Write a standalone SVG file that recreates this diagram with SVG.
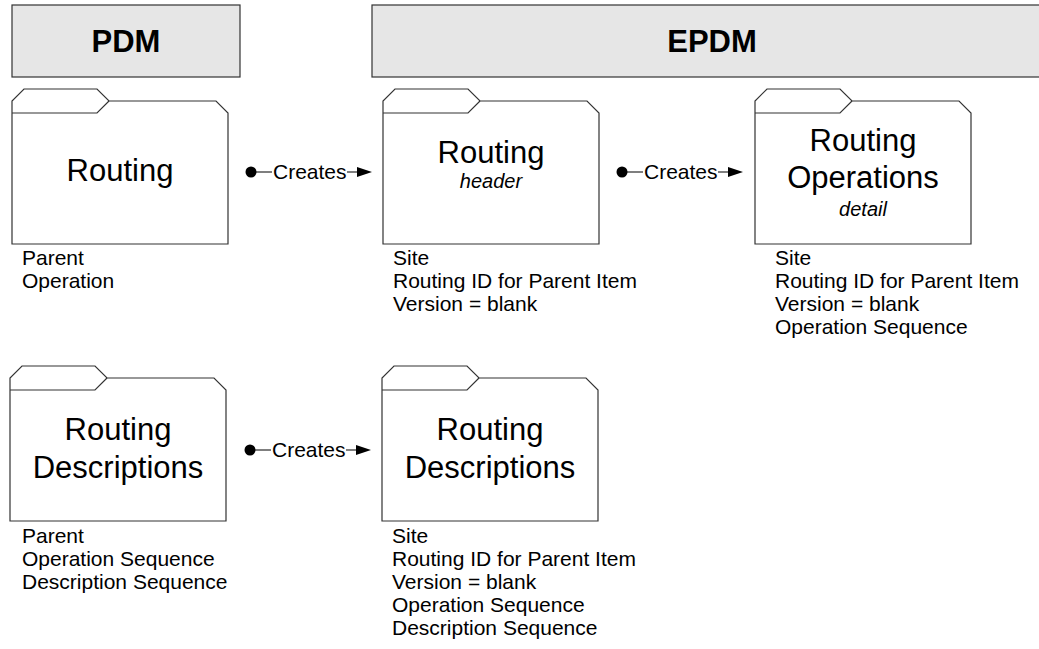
<svg xmlns="http://www.w3.org/2000/svg" width="1039" height="649" viewBox="0 0 1039 649">
<style>
.hdr{fill:#e6e6e6;stroke:#333;stroke-width:1.2}
.hdrt{font-family:"Liberation Sans",Arial,sans-serif;font-weight:bold;font-size:31px;fill:#000;text-anchor:middle}
.fold{fill:#fff;stroke:#333;stroke-width:1.2;stroke-linejoin:miter}
.title{font-family:"Liberation Sans",Arial,sans-serif;font-size:31px;fill:#000;text-anchor:middle}
.sub{font-family:"Liberation Sans",Arial,sans-serif;font-size:20px;font-style:italic;fill:#000;text-anchor:middle}
.prop{font-family:"Liberation Sans",Arial,sans-serif;font-size:21px;fill:#000}
.conn{stroke:#000;stroke-width:1.2;fill:none}
.lbl{font-family:"Liberation Sans",Arial,sans-serif;font-size:21px;fill:#000}
</style>
<defs>
<g id="folder">
<path class="fold" d="M0,155 V12 L12,0 H85 L97,12 H204 L216,24 V155 Z"/>
<path class="fold" d="M0,24 H85 L97,12" fill="none"/>
</g>
</defs>
<g id="pdm-header">
<rect class="hdr" x="12" y="5" width="228" height="72"/>
<text class="hdrt" x="126" y="52">PDM</text>
</g>
<g id="epdm-header">
<rect class="hdr" x="372" y="5" width="690" height="72"/>
<text class="hdrt" x="712" y="52">EPDM</text>
</g>
<g id="pdm-routing">
<use href="#folder" x="12" y="89"/>
<text class="title" x="120" y="181">Routing</text>
<text class="prop" x="22" y="265">Parent</text>
<text class="prop" x="22" y="288">Operation</text>
</g>
<g id="epdm-routing-header">
<use href="#folder" x="383" y="89"/>
<text class="title" x="491" y="163">Routing</text>
<text class="sub" x="491" y="188">header</text>
<text class="prop" x="393" y="265">Site</text>
<text class="prop" x="393" y="288">Routing ID for Parent Item</text>
<text class="prop" x="393" y="311">Version = blank</text>
</g>
<g id="epdm-routing-operations">
<use href="#folder" x="755" y="89"/>
<text class="title" x="863" y="151">Routing</text>
<text class="title" x="863" y="188">Operations</text>
<text class="sub" x="863" y="216">detail</text>
<text class="prop" x="775" y="265">Site</text>
<text class="prop" x="775" y="288">Routing ID for Parent Item</text>
<text class="prop" x="775" y="311">Version = blank</text>
<text class="prop" x="775" y="334">Operation Sequence</text>
</g>
<g id="pdm-routing-descriptions">
<use href="#folder" x="10" y="366"/>
<text class="title" x="118" y="440">Routing</text>
<text class="title" x="118" y="478">Descriptions</text>
<text class="prop" x="22" y="543">Parent</text>
<text class="prop" x="22" y="566">Operation Sequence</text>
<text class="prop" x="22" y="589">Description Sequence</text>
</g>
<g id="epdm-routing-descriptions">
<use href="#folder" x="382" y="366"/>
<text class="title" x="490" y="440">Routing</text>
<text class="title" x="490" y="478">Descriptions</text>
<text class="prop" x="392" y="543">Site</text>
<text class="prop" x="392" y="566">Routing ID for Parent Item</text>
<text class="prop" x="392" y="589">Version = blank</text>
<text class="prop" x="392" y="612">Operation Sequence</text>
<text class="prop" x="392" y="635">Description Sequence</text>
</g>
<g id="connectors">
<g id="c1">
<circle cx="251" cy="172" r="5.5" fill="#000"/>
<path class="conn" d="M251,172 H272 M347,172 H358"/>
<polygon points="357,167 372,172 357,177" fill="#000"/>
<text class="lbl" x="273" y="179">Creates</text>
</g>
<g id="c2">
<circle cx="622" cy="172" r="5.5" fill="#000"/>
<path class="conn" d="M622,172 H643 M718,172 H729"/>
<polygon points="728,167 743,172 728,177" fill="#000"/>
<text class="lbl" x="644" y="179">Creates</text>
</g>
<g id="c3">
<circle cx="250" cy="450" r="5.5" fill="#000"/>
<path class="conn" d="M250,450 H271 M346,450 H357"/>
<polygon points="356,445 371,450 356,455" fill="#000"/>
<text class="lbl" x="272" y="457">Creates</text>
</g>
</g>
</svg>
